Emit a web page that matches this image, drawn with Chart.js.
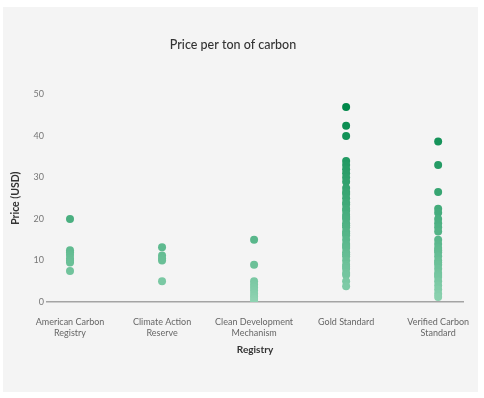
<!DOCTYPE html>
<html>
<head>
<meta charset="utf-8">
<script src="https://cdn.jsdelivr.net/npm/chart.js@4.4.0/dist/chart.umd.min.js"></script>
<style>
  html, body { margin: 0; padding: 0; background: #fff; }
  #wrap { position: absolute; left: 3px; top: 7px; width: 475px; height: 385px; background: #f4f4f4; }
</style>
</head>
<body>
<div id="wrap"><canvas id="chart" width="475" height="385"></canvas></div>
<script>
// registries and their tick labels
const categories = ['American Carbon Registry', 'Climate Action Reserve', 'Clean Development Mechanism', 'Gold Standard', 'Verified Carbon Standard'];
const tickLabels = [['American Carbon', 'Registry'], ['Climate Action', 'Reserve'], ['Clean Development', 'Mechanism'], ['Gold Standard'], ['Verified Carbon', 'Standard']];
const yTicks = [0, 10, 20, 30, 40, 50];

// prices (USD per ton)
const americanCarbon = [20, 12.5, 12, 11.3, 10.5, 10, 9.5, 7.5];
const climateAction = [13.2, 11.2, 10.5, 10, 5];
const cleanDevelopment = [15, 9, 5, 4.2, 3.5, 2.8, 2, 1.3, 0.7, 0.2];
const goldStandard = [47, 42.5, 40, 34, 33, 32, 31, 30, 29, 27.5, 26.5, 26, 25, 24, 23.5, 22.5, 22, 21, 20.5, 20,
  19, 18.5, 18, 17, 16.5, 16, 15, 14, 13.5, 13, 12, 11.5, 11, 10, 9, 8.5, 8, 7, 6.5, 5, 3.8];
const verifiedCarbon = [38.7, 33, 26.5, 22.5, 21.5, 20, 19, 18, 17, 15, 14, 13, 12.5, 12, 11, 10, 9.5, 9, 8, 7,
  6.5, 6, 5, 4, 3, 2, 1.2];

const series = [americanCarbon, climateAction, cleanDevelopment, goldStandard, verifiedCarbon];

const points = [];
series.forEach((vals, i) => vals.forEach(v => points.push({ x: i, y: v })));

// light green for cheap, dark green for expensive
function priceColor(v) {
  const t = Math.max(0, Math.min(1, v / 47));
  const lo = [143, 211, 178], hi = [0, 136, 74];
  const c = lo.map((l, k) => Math.round(l + (hi[k] - l) * Math.pow(t, 0.85)));
  return `rgb(${c[0]}, ${c[1]}, ${c[2]})`;
}

const font = 'Lato, "DejaVu Sans", sans-serif';

new Chart(document.getElementById('chart'), {
  type: 'scatter',
  data: {
    datasets: [{
      label: 'Price',
      data: points,
      pointRadius: 4,
      pointHoverRadius: 4,
      borderWidth: 0,
      backgroundColor: ctx => priceColor(ctx.raw ? ctx.raw.y : 0)
    }]
  },
  options: {
    responsive: false,
    animation: false,
    layout: { padding: { left: 0, right: 15, top: 0, bottom: 0 } },
    plugins: {
      legend: { display: false },
      tooltip: { enabled: false },
      title: {
        display: true,
        text: 'Price per ton of carbon',
        color: '#333',
        font: { family: font, size: 12.5, weight: '500' },
        padding: { top: 30, bottom: 42.5 }
      }
    },
    scales: {
      x: {
        type: 'linear',
        min: -0.25,
        max: 4.27,
        afterBuildTicks: s => { s.ticks = categories.map((c, i) => ({ value: i })); },
        afterFit: s => { s.height = 90; s.paddingLeft = 0; s.paddingRight = 0; },
        grid: { display: false, drawTicks: false },
        border: { display: true, color: '#a4a4a4', width: 1.5 },
        ticks: {
          callback: v => tickLabels[v],
          color: '#666',
          padding: 15,
          maxRotation: 0,
          autoSkip: false,
          font: { family: font, size: 9, lineHeight: 1.22 }
        },
        title: {
          display: true,
          text: 'Registry',
          color: '#333',
          font: { family: font, size: 10, weight: 'bold' },
          padding: { top: 0, bottom: 36 }
        }
      },
      y: {
        min: 0,
        max: 50,
        afterBuildTicks: s => { s.ticks = yTicks.map(v => ({ value: v })); },
        afterFit: s => { s.width = 44; },
        grid: { display: false, drawTicks: false },
        border: { display: false },
        ticks: {
          color: '#777',
          padding: 3,
          font: { family: font, size: 9 }
        },
        title: {
          display: true,
          text: 'Price (USD)',
          color: '#333',
          font: { family: font, size: 10.5, weight: 'bold' },
          padding: { top: 6, bottom: 0 }
        }
      }
    }
  }
});
</script>
</body>
</html>
